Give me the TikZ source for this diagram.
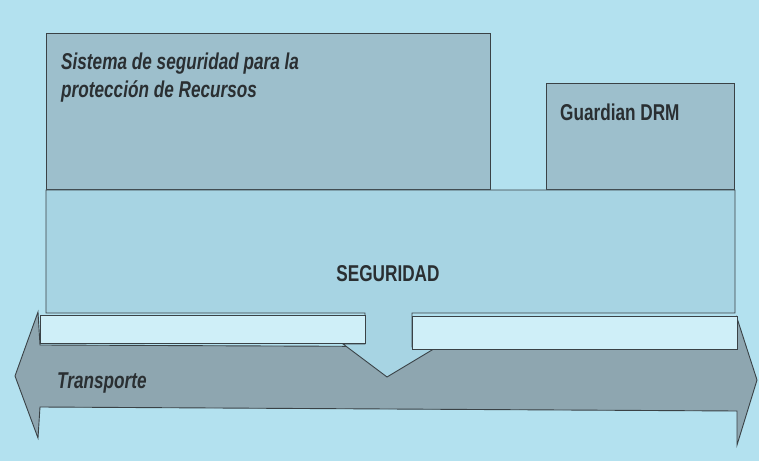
\documentclass[tikz,border=0pt]{standalone}
\usepackage{fontspec}
\setmainfont{Liberation Sans}
\newfontfamily\narrowfont[FakeStretch=0.75]{Liberation Sans}
\definecolor{bgc}{HTML}{B3E1EF}
\definecolor{topbox}{HTML}{9DBFCC}
\definecolor{segbox}{HTML}{A7D4E3}
\definecolor{strip}{HTML}{CFEFF8}
\definecolor{arrowc}{HTML}{8EA6B0}
\definecolor{edge}{HTML}{3A4246}
\definecolor{txt}{HTML}{2A2F32}
\begin{document}
\begin{tikzpicture}[x=1bp,y=-1bp,
  outl/.style={draw=edge,line width=0.9bp,line join=miter},
  lbl/.style={text=txt,font=\narrowfont\bfseries\fontsize{23}{29}\selectfont,inner sep=0pt},
  ilbl/.style={lbl,font=\narrowfont\bfseries\itshape\fontsize{23}{29}\selectfont}]
\useasboundingbox (0,0) rectangle (759,461);
\fill[bgc] (0,0) rectangle (759,461);
% transport double arrow
\draw[outl,fill=arrowc] (40,345) -- (737,348) -- (737,318) -- (757,380) -- (737,445)
  -- (737,411) -- (40,407) -- (38,438) -- (15,376) -- (38,312) -- cycle;
% top boxes
\draw[outl,fill=topbox] (46,33) rectangle (490,189);
\draw[outl,fill=topbox] (546,83) rectangle (734,189);
% seguridad block with down arrow
\draw[outl,fill=segbox] (46,190) -- (735,190) -- (735,313) -- (412,313) -- (412,347)
  -- (437,347) -- (387,377) -- (343,344) -- (365,344) -- (365,313) -- (46,313) -- cycle;
% strips
\draw[outl,fill=strip] (40,315) rectangle (365,343);
\draw[outl,fill=strip] (412,316) rectangle (737,349);
% labels
\node[ilbl,anchor=base west,align=left] (sis) at (61,98) {Sistema de seguridad para la\\protección de Recursos};
\node[lbl,anchor=base west] (drm) at (560,121) {Guardian DRM};
\node[lbl,anchor=base] (seg) at (388,282) {SEGURIDAD};
\node[ilbl,anchor=base west] (tra) at (57,388) {Transporte};
\end{tikzpicture}
\end{document}
